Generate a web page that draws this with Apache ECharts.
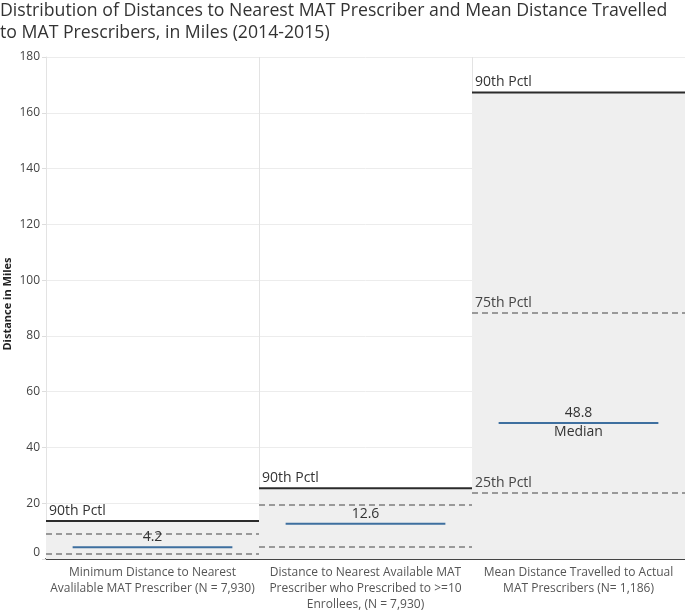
<!DOCTYPE html>
<html>
<head>
<meta charset="utf-8">
<script src="https://cdn.jsdelivr.net/npm/echarts@6/dist/echarts.min.js"></script>
<style>html,body{margin:0;padding:0;background:#fff;}#c{width:685px;height:611px;}</style>
</head>
<body>
<div id="c"></div>
<script>
const categories = [
  'Minimum Distance to Nearest\nAvalilable MAT Prescriber (N = 7,930)',
  'Distance to Nearest Available MAT\nPrescriber who Prescribed to >=10\nEnrollees, (N = 7,930)',
  'Mean Distance Travelled to Actual\nMAT Prescribers (N= 1,186)'
];
const pct90 = [13.6, 25.4, 167.3];
const pct75 = [9.0, 19.4, 88.2];
const median = [4.2, 12.6, 48.8];
const pct25 = [1.8, 4.3, 23.7];
const medianLabels = ['4.2', '12.6', '48.8'];
const showQuartileLabels = [false, false, true];
const yTicks = [0, 20, 40, 60, 80, 100, 120, 140, 160, 180];

const FONT = 'Open Sans';
const LBL = '14px "' + FONT + '"';
const chart = echarts.init(document.getElementById('c'));

function renderItem(params, api) {
  const i = api.value(0);
  const base = api.coord([i, 0]);
  const w = api.size([1, 0])[0];
  const cx = base[0];
  const x0 = cx - w / 2, x1 = cx + w / 2;
  const y0 = base[1];
  const y90 = api.coord([i, api.value(1)])[1];
  const y75 = api.coord([i, api.value(2)])[1];
  const yMed = api.coord([i, api.value(3)])[1];
  const y25 = api.coord([i, api.value(4)])[1];
  const children = [
    { type: 'rect', shape: { x: x0, y: y90, width: w, height: y0 - y90 }, style: { fill: '#efefef' } },
    { type: 'line', shape: { x1: x0, y1: y75, x2: x1, y2: y75 }, style: { stroke: '#999', lineWidth: 2, lineDash: [6, 4] } },
    { type: 'line', shape: { x1: x0, y1: y25, x2: x1, y2: y25 }, style: { stroke: '#999', lineWidth: 2, lineDash: [6, 4] } },
    { type: 'line', shape: { x1: x0, y1: y90, x2: x1, y2: y90 }, style: { stroke: '#2b2b2b', lineWidth: 2 } },
    { type: 'line', shape: { x1: cx - w * 0.375, y1: yMed, x2: cx + w * 0.375, y2: yMed }, style: { stroke: '#3e6f9f', lineWidth: 2 } },
    { type: 'text', x: x0 + 3, y: y90 - 3, style: { text: '90th Pctl', fill: '#333', font: LBL, verticalAlign: 'bottom', align: 'left' } },
    { type: 'text', x: cx, y: yMed - 3, style: { text: medianLabels[i], fill: '#333', font: LBL, verticalAlign: 'bottom', align: 'center' } }
  ];
  if (showQuartileLabels[i]) {
    children.push(
      { type: 'text', x: x0 + 3, y: y75 - 3, style: { text: '75th Pctl', fill: '#444', font: LBL, verticalAlign: 'bottom', align: 'left' } },
      { type: 'text', x: x0 + 3, y: y25 - 3, style: { text: '25th Pctl', fill: '#444', font: LBL, verticalAlign: 'bottom', align: 'left' } },
      { type: 'text', x: cx, y: yMed + 2, style: { text: 'Median', fill: '#333', font: LBL, verticalAlign: 'top', align: 'center' } }
    );
  }
  return { type: 'group', children: children };
}

chart.setOption({
  animation: false,
  backgroundColor: '#fff',
  title: {
    text: 'Distribution of Distances to Nearest MAT Prescriber and Mean Distance Travelled\nto MAT Prescribers, in Miles (2014-2015)',
    left: 0, top: 0, padding: [0, 0, 0, 0],
    textStyle: { fontFamily: FONT, fontSize: 17.7, fontWeight: 'normal', color: '#333', lineHeight: 22 }
  },
  grid: { left: 46, right: 0, top: 57, bottom: 52, containLabel: false, outerBoundsMode: 'none' },
  xAxis: {
    type: 'category',
    data: categories,
    axisLine: { show: true, lineStyle: { color: '#444', width: 2 } },
    axisTick: { show: false },
    axisLabel: { interval: 0, color: '#555', fontFamily: FONT, fontSize: 12, lineHeight: 16, margin: 6 },
    splitLine: { show: true, lineStyle: { color: '#e3e3e3', width: 1 } }
  },
  yAxis: {
    type: 'value',
    min: 0, max: 180, interval: 20,
    name: 'Distance in Miles',
    nameLocation: 'middle', nameRotate: 90, nameGap: 33, nameMoveOverlap: false,
    nameTextStyle: { fontFamily: FONT, fontSize: 11, fontWeight: 'bold', color: '#222', padding: [0, 0, 0, 8] },
    axisLine: { show: true, lineStyle: { color: '#e3e3e3' } },
    axisTick: { show: true, length: 4, lineStyle: { color: '#ddd' } },
    axisLabel: { color: '#444', fontFamily: FONT, fontSize: 12, margin: 6, verticalAlignMinLabel: 'bottom' },
    splitLine: { show: true, lineStyle: { color: '#ececec' } }
  },
  series: [{
    type: 'custom',
    renderItem: renderItem,
    clip: false,
    encode: { x: 0, y: [1, 2, 3, 4] },
    data: categories.map((c, i) => [i, pct90[i], pct75[i], median[i], pct25[i]])
  }]
});
</script>
</body>
</html>
